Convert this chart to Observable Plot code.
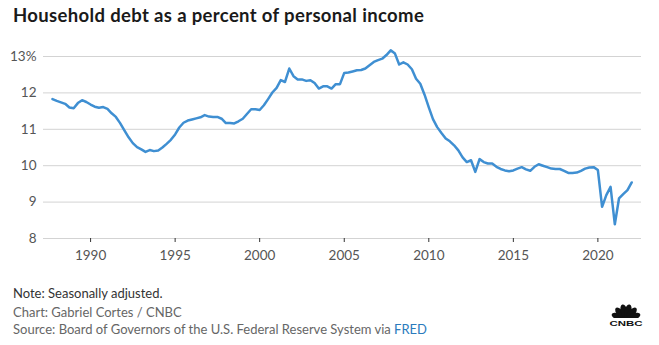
<!DOCTYPE html>
<html>
<head>
<meta charset="utf-8">
<script src="https://cdn.jsdelivr.net/npm/d3@7"></script>
<script src="https://cdn.jsdelivr.net/npm/@observablehq/plot@0.6"></script>
<style>
  html, body { margin: 0; padding: 0; background: #fff; }
  #wrap { position: relative; width: 659px; height: 345px; overflow: hidden; font-family: Lato, "Open Sans", sans-serif; }
  #title { position: absolute; left: 13px; top: 5px; font-size: 18.5px; letter-spacing: 0.35px; line-height: 20px; font-weight: 700; color: #1a1a1a; white-space: nowrap; }
  #chart { position: absolute; left: 0; top: 40px; }
  .foot { position: absolute; left: 13px; font-size: 13px; line-height: 18px; white-space: nowrap; }
  #note { top: 284px; color: #333; }
  #credit { top: 303px; color: #666; }
  #source { top: 320px; color: #666; }
  #source span { color: #2b7bbd; }
  #logo { position: absolute; left: 605px; top: 302px; }
</style>
</head>
<body>
<div id="wrap">
  <div id="title">Household debt as a percent of personal income</div>
  <div id="chart"></div>
  <div class="foot" id="note">Note: Seasonally adjusted.</div>
  <div class="foot" id="credit">Chart: Gabriel Cortes / CNBC</div>
  <div class="foot" id="source">Source: Board of Governors of the U.S. Federal Reserve System via <span>FRED</span></div>
  <svg id="logo" width="42" height="28" viewBox="0 0 42 28"></svg>
</div>
<script>
// Quarterly data, first quarter 1987 Q4
const startDate = "1987-10-01";
const debtPct = [
  11.83,
  11.78, 11.74, 11.70, 11.60,
  11.58, 11.72, 11.80, 11.75,
  11.68, 11.62, 11.59, 11.61,
  11.56, 11.44, 11.34, 11.17,
  10.97, 10.78, 10.62, 10.51,
  10.45, 10.38, 10.43, 10.40,
  10.42, 10.50, 10.60, 10.71,
  10.86, 11.05, 11.18, 11.24,
  11.27, 11.30, 11.33, 11.39,
  11.35, 11.34, 11.34, 11.29,
  11.17, 11.17, 11.16, 11.22,
  11.29, 11.42, 11.55, 11.55,
  11.53, 11.66, 11.83, 12.01,
  12.14, 12.35, 12.30, 12.67,
  12.46, 12.37, 12.37, 12.33,
  12.35, 12.27, 12.12, 12.18,
  12.18, 12.12, 12.24, 12.24,
  12.55, 12.56, 12.59, 12.62,
  12.63, 12.67, 12.76, 12.85,
  12.90, 12.94, 13.04, 13.17,
  13.08, 12.78, 12.84, 12.78,
  12.65, 12.39, 12.25, 11.95,
  11.60, 11.28, 11.06, 10.90,
  10.75, 10.67, 10.56, 10.42,
  10.23, 10.10, 10.15, 9.83,
  10.18, 10.10, 10.06, 10.06,
  9.97, 9.91, 9.87, 9.85,
  9.87, 9.92, 9.96, 9.90,
  9.86, 9.97, 10.04, 10.00,
  9.96, 9.92, 9.91, 9.91,
  9.86, 9.80, 9.80, 9.81,
  9.86, 9.92, 9.95, 9.96,
  9.88, 8.87, 9.19, 9.42,
  8.39, 9.10, 9.22, 9.33,
  9.54
];
const yTicks = [8, 9, 10, 11, 12, 13];
const xTickYears = [1990, 1995, 2000, 2005, 2010, 2015, 2020];

const start = new Date(startDate + "T00:00:00Z");
const data = debtPct.map((v, i) => ({ date: d3.utcMonth.offset(start, 3 * i), value: v }));
const xTicks = xTickYears.map(y => new Date(Date.UTC(y, 0, 1)));

const chart = Plot.plot({
  width: 659,
  height: 230,
  marginTop: 16,
  marginBottom: 32,
  marginLeft: 43,
  marginRight: 18,
  style: { fontFamily: "Lato, 'Open Sans', sans-serif", fontSize: "13px", color: "#555", background: "transparent" },
  x: { type: "utc", domain: [new Date(Date.UTC(1987, 2, 21)), new Date(Date.UTC(2022, 6, 31))], label: null },
  y: { domain: [8, 13], label: null },
  marks: [
    Plot.ruleY(yTicks, { stroke: "#d3d3d3", strokeWidth: 1 }),
    Plot.axisY(yTicks, { tickSize: 0, tickPadding: 7, tickFormat: d => d === 13 ? "13%" : String(d), fill: "#555", fontSize: 13.5, label: null }),
    Plot.axisX(xTicks, { tickSize: 4, tickPadding: 8, tickFormat: d3.utcFormat("%Y"), stroke: "#333", fill: "#555", fontSize: 13.5, label: null }),
    Plot.lineY(data, { x: "date", y: "value", stroke: "#3f8fd2", strokeWidth: 2.5, strokeLinejoin: "round" })
  ]
});
document.getElementById("chart").appendChild(chart);

// CNBC logo (simplified peacock)
const logo = d3.select("#logo");
const angles = [-72, -43, -14, 14, 43, 72];
const g = logo.append("g").attr("transform", "translate(21,17)");
angles.forEach(a => {
  g.append("ellipse")
    .attr("cx", 0).attr("cy", -8).attr("rx", 3.4).attr("ry", 7)
    .attr("transform", `rotate(${a})`)
    .attr("fill", "#111");
});
g.append("rect").attr("x", -13).attr("y", -1).attr("width", 26).attr("height", 6).attr("fill", "#fff");
logo.append("text").attr("x", 21).attr("y", 23.5).attr("text-anchor", "middle")
  .attr("font-family", "'Liberation Sans', Arial, sans-serif").attr("font-weight", 700)
  .attr("font-size", 8).attr("textLength", 33).attr("lengthAdjust", "spacingAndGlyphs")
  .attr("fill", "#111").text("CNBC");
</script>
</body>
</html>
